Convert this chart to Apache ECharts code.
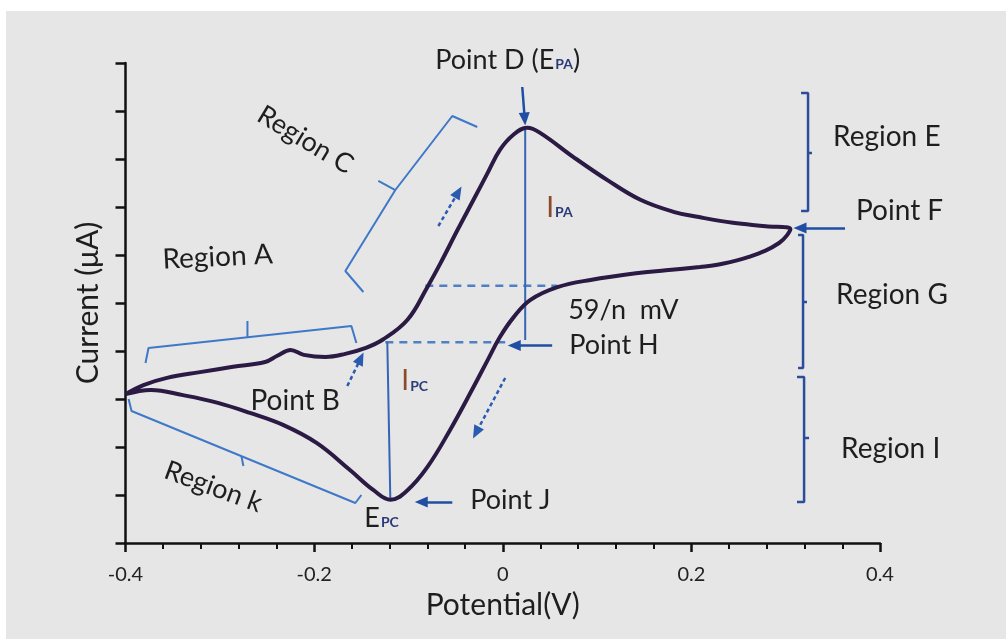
<!DOCTYPE html>
<html>
<head>
<meta charset="utf-8">
<script src="https://cdn.jsdelivr.net/npm/echarts@6/dist/echarts.min.js"></script>
<style>
  html, body { margin: 0; padding: 0; background: #ffffff; }
  #chart { width: 1006px; height: 639px; }
</style>
</head>
<body>
<div id="chart"></div>
<script>
// Cyclic voltammogram: anodic sweep from -0.4 V to the switching potential, then back.
// Current is in µA relative to the starting point of the sweep.
const potential = [
  -0.400, -0.381, -0.356, -0.321, -0.286, -0.252, -0.239, -0.225, -0.211, -0.188,
  -0.167, -0.146, -0.127, -0.101, -0.080, -0.066, -0.048, -0.031, -0.016, -0.003,
   0.011,  0.026,  0.040,  0.075,  0.111,  0.146,  0.181,  0.208,  0.244,  0.279,
   0.305,
   0.293,  0.261,  0.226,  0.209,  0.173,  0.146,  0.093,  0.058,  0.029,  0.011,
  -0.003, -0.016, -0.031, -0.056, -0.080, -0.101, -0.119, -0.137, -0.162, -0.197,
  -0.233, -0.268, -0.302, -0.339, -0.373, -0.400
];
const current = [
   0.10,  0.29,  0.44,  0.56,  0.67,  0.77,  0.90,  1.02,  0.92,  0.875,
   0.94,  1.06,  1.24,  1.65,  2.33,  2.83,  3.52,  4.15,  4.71,  5.19,
   5.50,  5.65,  5.54,  5.04,  4.56,  4.15,  3.90,  3.79,  3.67,  3.60,
   3.54,
   3.25,  2.96,  2.79,  2.75,  2.68,  2.63,  2.48,  2.33,  2.06,  1.69,
   1.29,  0.81,  0.25, -0.65, -1.42, -1.90, -2.10, -1.90, -1.48, -0.92,
  -0.54, -0.29, -0.08,  0.08,  0.19,  0.10
];

const xTickValues = [-0.4, -0.2, 0, 0.2, 0.4];
const xTickLabels = ['-0.4', '-0.2', '0', '0.2', '0.4'];

// Annotation geometry, in axis units (V, µA)
const bracketA      = [[-0.3788, 0.75], [-0.3756, 1.0625], [-0.1605, 1.521], [-0.1552, 1.167]];
const bracketATick  = [[-0.2707, 1.286], [-0.2707, 1.625]];
const bracketC      = [[-0.0270, 5.667], [-0.0535, 5.896], [-0.1139, 4.354], [-0.1669, 2.667], [-0.1478, 2.229]];
const bracketCTick  = [[-0.1139, 4.354], [-0.1319, 4.542]];
const bracketK      = [[-0.3967, 0.0], [-0.3936, -0.25], [-0.1563, -2.167], [-0.1499, -2.0]];
const bracketKTick  = [[-0.2771, -1.191], [-0.2750, -1.396]];
const bracketE      = [[0.3163, 6.375], [0.3237, 6.375], [0.3237, 3.917], [0.3163, 3.917]];
const bracketETick  = [[0.3237, 5.125], [0.3279, 5.125]];
const bracketG      = [[0.3131, 3.417], [0.3184, 3.417], [0.3184, 0.646], [0.3131, 0.646]];
const bracketGTick  = [[0.3184, 2.021], [0.3226, 2.021]];
const bracketI      = [[0.3120, 0.458], [0.3195, 0.458], [0.3195, -2.146], [0.3120, -2.146]];
const bracketITick  = [[0.3195, -0.8125], [0.3248, -0.8125]];

const halfWaveUpper = [[-0.0821, 2.36], [0.0577, 2.36]];
const halfWaveLower = [[-0.1245, 1.18], [0.0026, 1.18]];
const peakAnodic    = [[0.0238, 5.646], [0.0238, 1.229]];
const peakCathodic  = [[-0.1224, 1.1875], [-0.1192, -2.104]];

// pointer arrows: [from, to]
const arrowsSolid = [
  [[0.0207, 6.5],    [0.0233, 5.833]],   // Point D
  [[0.3629, 3.5625], [0.3152, 3.5625]],  // Point F
  [[0.0524, 1.115],  [0.0122, 1.115]],   // Point H
  [[-0.0535, -2.146],[-0.0864, -2.146]]  // Point J
];
const arrowsDotted = [
  [[-0.1648, 0.271], [-0.1506, 0.846]],  // Point B
  [[-0.0683, 3.604], [-0.0472, 4.308]],  // forward sweep
  [[0.0026, 0.4375], [-0.0283, -0.702]]  // reverse sweep
];

const FONT = 'Lato, "Open Sans", "DejaVu Sans", sans-serif';
const TEXT = '#1e1e1e';

function polyline(points, color, width, type) {
  return {
    type: 'line', data: points, showSymbol: false, symbol: 'none', clip: false,
    silent: true, smooth: false, z: 3,
    lineStyle: { color: color, width: width, type: type || 'solid' }
  };
}

const BR1 = '#3f78c8';
const BR2 = '#2c4d9b';
const series = [
  {
    type: 'line',
    data: potential.map((p, i) => [p, current[i]]),
    showSymbol: false, symbol: 'none', smooth: 0.4, clip: false, z: 5,
    lineStyle: { color: '#2b1a44', width: 4 }
  },
  polyline(bracketA, BR1, 2), polyline(bracketATick, BR1, 2),
  polyline(bracketC, BR1, 2), polyline(bracketCTick, BR1, 2),
  polyline(bracketK, BR1, 2), polyline(bracketKTick, BR1, 2),
  polyline(bracketE, BR2, 2.5), polyline(bracketETick, BR2, 2.5),
  polyline(bracketG, BR2, 2.5), polyline(bracketGTick, BR2, 2.5),
  polyline(bracketI, BR2, 2.5), polyline(bracketITick, BR2, 2.5),
  polyline(halfWaveUpper, '#4f7fc6', 2.5, [8, 6]),
  polyline(halfWaveLower, '#4f7fc6', 2.5, [8, 6]),
  polyline(peakAnodic, '#3565b5', 2),
  polyline(peakCathodic, '#3565b5', 2),
  {
    type: 'line', data: [], silent: true, z: 6,
    markLine: {
      silent: true, animation: false,
      symbol: ['none', 'triangle'], symbolSize: [11, 13],
      label: { show: false },
      lineStyle: { color: '#1f4ea3', width: 2.5, type: 'solid' },
      data: arrowsSolid.map(a => [{ coord: a[0] }, { coord: a[1] }])
        .concat(arrowsDotted.map(a => [
          { coord: a[0], lineStyle: { type: [4, 3], width: 2.5, color: '#2a5bb0' } },
          { coord: a[1] }
        ]))
    }
  }
];

const chart = echarts.init(document.getElementById('chart'), null, { renderer: 'canvas' });

chart.setOption({
  animation: false,
  backgroundColor: '#e6e6e6',
  textStyle: { fontFamily: FONT },
  grid: { left: 125.5, right: 126, top: 63, bottom: 96, containLabel: false },
  xAxis: {
    type: 'value', min: -0.4, max: 0.4, interval: 0.2,
    name: 'Potential(V)', nameLocation: 'middle', nameGap: 40,
    nameTextStyle: { fontSize: 30, color: TEXT, fontFamily: FONT },
    axisLine: { show: true, onZero: false, lineStyle: { color: '#111', width: 2.5 } },
    axisTick: { show: true, inside: false, length: 9, lineStyle: { color: '#111', width: 2.5 } },
    minorTick: { show: true, splitNumber: 5, length: 6, lineStyle: { color: '#111', width: 2 } },
    axisLabel: {
      show: true, margin: 22, fontSize: 20, color: '#222222', fontFamily: FONT,
      formatter: function (v) {
        const i = xTickValues.findIndex(t => Math.abs(t - v) < 1e-9);
        return i >= 0 ? xTickLabels[i] : '';
      }
    },
    splitLine: { show: false }
  },
  yAxis: {
    type: 'value', min: -3, max: 7, interval: 1,
    name: 'Current (μA)', nameLocation: 'middle', nameGap: 22,
    nameTextStyle: { fontSize: 30, color: TEXT, fontFamily: FONT },
    axisLine: { show: true, onZero: false, lineStyle: { color: '#111', width: 2.5 } },
    axisTick: { show: true, inside: false, length: 10, lineStyle: { color: '#111', width: 2.5 } },
    axisLabel: { show: false },
    splitLine: { show: false }
  },
  series: series
});

// Text annotations, anchored in axis units
const SUB = { fontSize: 14, fontFamily: FONT, fontWeight: 'bold', fill: '#2a3b78', color: '#2a3b78', verticalAlign: 'bottom', padding: [0, 0, 2, 1] };
const MAIN = { fontSize: 27, fontFamily: FONT, fill: TEXT, color: TEXT };
const notes = [
  { at: [-0.0715, 7.06],  text: '{m|Point D (E}{s|PA}{m|)}', align: 'left', size: 27 },
  { at: [-0.2093, 5.40],  text: 'Region C', align: 'center', rotate: -0.54, size: 27 },
  { at: [-0.3608, 2.90],  text: 'Region A', align: 'left', rotate: 0.05, size: 28 },
  { at: [-0.3068, -1.83], text: 'Region k', align: 'center', rotate: -0.35, size: 27 },
  { at: [-0.2675, -0.04], text: 'Point B', align: 'left', size: 28 },
  { at: [-0.1075, 0.375], text: '{i|I}{s|PC}', align: 'left', size: 27 },
  { at: [0.0461, 3.98],   text: '{i|I}{s|PA}', align: 'left', size: 27 },
  { at: [0.0694, 1.854],  text: '59/n  mV', align: 'left', size: 27 },
  { at: [0.0705, 1.125],  text: 'Point H', align: 'left', size: 27 },
  { at: [-0.0344, -2.104],text: 'Point J', align: 'left', size: 27 },
  { at: [-0.1468, -2.48], text: '{m|E}{s|PC}', align: 'left', size: 27 },
  { at: [0.3502, 5.458],  text: 'Region E', align: 'left', size: 28 },
  { at: [0.3746, 3.917],  text: 'Point F', align: 'left', size: 28 },
  { at: [0.3534, 2.167],  text: 'Region G', align: 'left', size: 28 },
  { at: [0.3587, -1.042], text: 'Region I', align: 'left', size: 28 }
];

function layoutNotes() {
  const els = [
    { type: 'rect', shape: { x: 0, y: 0, width: 1006, height: 11 }, style: { fill: '#ffffff' }, silent: true },
    { type: 'rect', shape: { x: 0, y: 0, width: 6, height: 639 }, style: { fill: '#ffffff' }, silent: true }
  ];
  notes.forEach(n => {
    const p = chart.convertToPixel({ gridIndex: 0 }, n.at);
    const rich = n.text.indexOf('{') === 0;
    els.push({
      type: 'text', x: p[0], y: p[1], rotation: n.rotate || 0, z: 20, silent: true,
      style: {
        text: n.text,
        font: n.size + 'px ' + FONT,
        fontSize: n.size, fontFamily: FONT,
        fill: TEXT,
        align: n.align, textAlign: n.align,
        verticalAlign: 'middle', textVerticalAlign: 'middle',
        rich: rich ? {
          m: MAIN,
          s: SUB,
          i: { fontSize: 28, fontFamily: FONT, fill: '#8b4a2b', color: '#8b4a2b' }
        } : undefined
      }
    });
  });
  chart.setOption({ graphic: { elements: els } });
}
layoutNotes();
</script>
</body>
</html>
